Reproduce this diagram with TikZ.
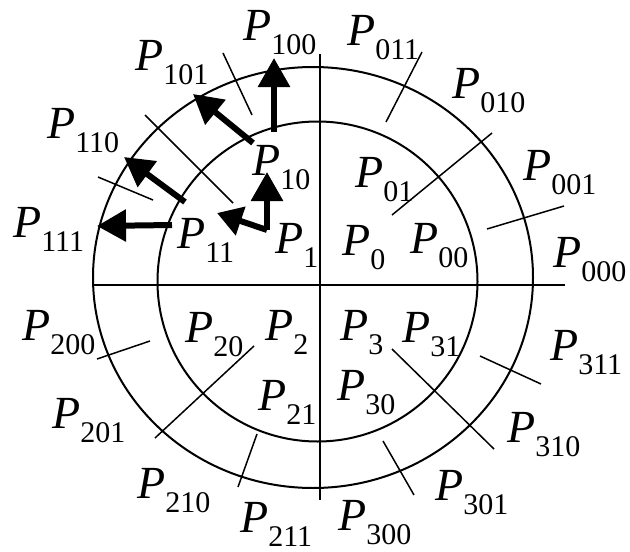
\documentclass[tikz,border=0pt]{standalone}
\usepackage{fontspec}
\setmainfont{Liberation Serif}
\usepackage{tikz}
\usetikzlibrary{arrows.meta}
\newcommand{\Plab}[1]{\textit{P}\raisebox{-0.31em}{\fontsize{30}{30}\selectfont #1}}

\begin{document}
\begin{tikzpicture}[
  x=1pt, y=-1pt,
  ring/.style={line width=2pt},
  axis/.style={line width=1.8pt},
  tick/.style={line width=1.5pt},
  lab/.style={inner sep=0pt, anchor=base west,
              font=\fontsize{46}{46}\selectfont},
  move/.style={line width=6pt,
               -{Triangle[length=29pt, width=31pt]}},
]
\useasboundingbox (0,0) rectangle (630,552);

% -------------------------------------------------------------------------
% rings and axes
% -------------------------------------------------------------------------
\draw[ring] (317.5,281.5) circle [radius=160pt];
\draw[ring] (313,277.5) ellipse [x radius=220pt, y radius=210.5pt];
\draw[axis] (93,285) -- (565,285);
\draw[axis] (320,54) -- (320,500);

% dividing strokes
\draw[tick] (145,115) -- (233,203);
\draw[tick] (223,53) -- (252,115);
\draw[tick] (98,177) -- (153,200);

\draw[tick] (422,52) -- (386,122);
\draw[tick] (492,133) -- (392,215);
\draw[tick] (564,206) -- (487,229);

\draw[tick] (97,359) -- (150,341);
\draw[tick] (155,438) -- (254,346);
\draw[tick] (257,434) -- (238,487);

\draw[tick] (480,356) -- (541,384);
\draw[tick] (392,349) -- (494,449);
\draw[tick] (383,441) -- (414,495);

% -------------------------------------------------------------------------
% labels, upper half
% -------------------------------------------------------------------------
\node[lab] (p100) at (243,40) {\Plab{100}};
\node[lab] (p101) at (135,70) {\Plab{101}};
\node[lab] (p110) at (47,138) {\Plab{110}};
\node[lab] (p111) at (13,237) {\Plab{111}};
\node[lab] (p10) at (252,175) {\Plab{10}};
\node[lab] (p11) at (177,248) {\Plab{11}};
\node[lab] (p1) at (275,253) {\Plab{1}};

\node[lab] (p0) at (342,255) {\Plab{0}};
\node[lab] (p00) at (410,253) {\Plab{00}};
\node[lab] (p01) at (355,187) {\Plab{01}};
\node[lab] (p011) at (347,45) {\Plab{011}};
\node[lab] (p010) at (452,98) {\Plab{010}};
\node[lab] (p001) at (523,180) {\Plab{001}};
\node[lab] (p000) at (553,267) {\Plab{000}};

% -------------------------------------------------------------------------
% labels, lower half
% -------------------------------------------------------------------------
\node[lab] (p200) at (22,340) {\Plab{200}};
\node[lab] (p201) at (52,428) {\Plab{201}};
\node[lab] (p210) at (137,498) {\Plab{210}};
\node[lab] (p211) at (240,532) {\Plab{211}};
\node[lab] (p20) at (185,342) {\Plab{20}};
\node[lab] (p2) at (265,340) {\Plab{2}};
\node[lab] (p21) at (258,410) {\Plab{21}};

\node[lab] (p3) at (340,340) {\Plab{3}};
\node[lab] (p31) at (402,342) {\Plab{31}};
\node[lab] (p30) at (337,400) {\Plab{30}};
\node[lab] (p311) at (550,360) {\Plab{311}};
\node[lab] (p310) at (507,442) {\Plab{310}};
\node[lab] (p301) at (435,500) {\Plab{301}};
\node[lab] (p300) at (338,530) {\Plab{300}};

% -------------------------------------------------------------------------
% moves out of P_1
% -------------------------------------------------------------------------
\coordinate (m1) at (267,230);
\coordinate (m10) at (267,172);
\coordinate (m11) at (217,213);
\draw[move] (m1) -- (m10);
\draw[move, -{Triangle[length=25pt, width=29pt]}] (m1) -- (m11);

\coordinate (s10) at (274,132);
\coordinate (t100) at (274,58);
\coordinate (s10b) at (253,143);
\coordinate (t101) at (193,94);
\draw[move] (s10) -- (t100);
\draw[move] (s10b) -- (t101);

\coordinate (s11) at (185,202);
\coordinate (t110) at (124,157);
\coordinate (s11b) at (172,225);
\coordinate (t111) at (97,226);
\draw[move] (s11) -- (t110);
\draw[move] (s11b) -- (t111);

\end{tikzpicture}
\end{document}
